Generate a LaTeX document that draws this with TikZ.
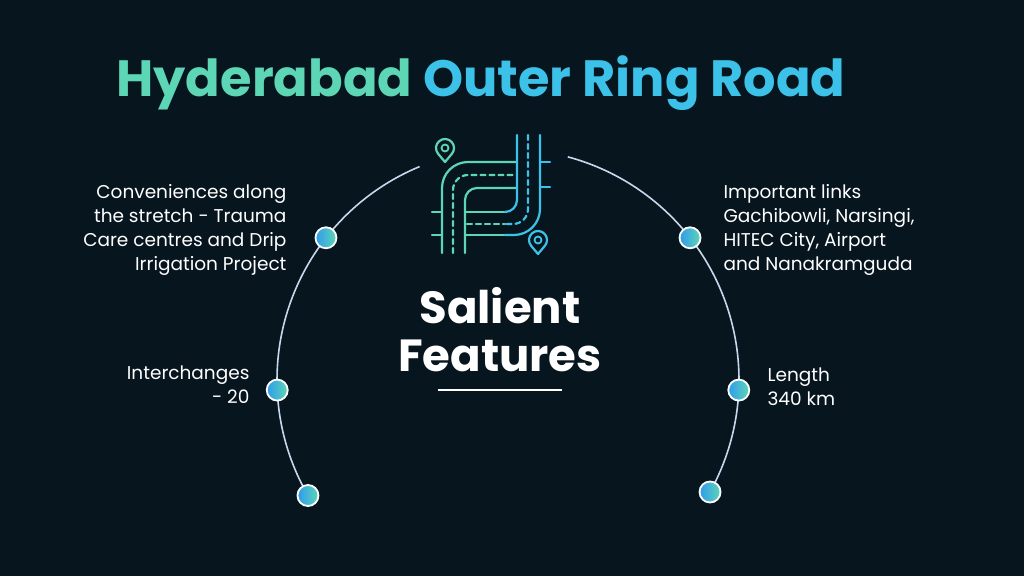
\documentclass[tikz,border=0pt]{standalone}
\usepackage{fontspec}
\setmainfont{Poppins}
\usetikzlibrary{calc}
\definecolor{bg}{HTML}{07151F}
\definecolor{tealc}{HTML}{5DD6B6}
\definecolor{cyanc}{HTML}{3CC2E8}
\definecolor{arcc}{HTML}{C8D8EC}
\begin{document}
\begin{tikzpicture}[x=1pt,y=1pt,
  dotn/.style={circle,draw=white,line width=1.8pt,minimum size=21pt,inner sep=0pt,left color=cyanc!80!blue,right color=tealc},
  body/.style={text=white,font=\fontsize{18.5}{24}\selectfont},
  road/.style={line width=2.2pt,line cap=round},
  roaddash/.style={road,dash pattern=on 5pt off 4pt}]
\fill[bg] (0,0) rectangle (1024,576);
\useasboundingbox (0,0) rectangle (1024,576);
% title
\node[font=\fontsize{51}{58}\selectfont\bfseries,anchor=center] (title) at (481,493)
 {\textcolor{tealc}{Hyderabad} \textcolor{cyanc}{Outer Ring Road}};
% arcs
\coordinate (c) at (508,196);
\draw[arcc,line width=1.6pt] ($(c)+(112.5:231)$) arc[start angle=112.5,end angle=211.5,radius=231];
\draw[arcc,line width=1.6pt] ($(c)+(75:231)$) arc[start angle=75,end angle=-31.5,radius=231];
% dots
\node[dotn] (d1) at ($(c)+(142:231)$) {};
\node[dotn] (d2) at ($(c)+(182.5:231)$) {};
\node[dotn] (d3) at ($(c)+(210:231)$) {};
\node[dotn] (d4) at ($(c)+(38:231)$) {};
\node[dotn] (d5) at ($(c)+(-2.5:231)$) {};
\node[dotn] (d6) at ($(c)+(-29:231)$) {};
% icon
\begin{scope}[yshift=576pt,y=-1pt]
 \draw[road,tealc] (442,253) -- (442,188) arc[start angle=180,end angle=270,radius=26] -- (517,162);
 \draw[roaddash,tealc] (453,253) -- (453,190) arc[start angle=180,end angle=270,radius=15] -- (515,175);
 \draw[road,tealc] (465,253) -- (465,200) arc[start angle=180,end angle=270,radius=12] -- (517,188);
 \draw[road,tealc] (432,212) -- (442,212) (432,235) -- (442,235);
 \draw[road,tealc] (465,212) -- (505,212);
 \draw[roaddash,tealc] (467,224) -- (505,224);
 \draw[road,tealc] (465,235) -- (505,235);
 \draw[road,cyanc] (517,135) -- (517,200) arc[start angle=0,end angle=90,radius=12] -- (505,212);
 \draw[roaddash,cyanc] (528,135) -- (528,209) arc[start angle=0,end angle=90,radius=15] -- (505,224);
 \draw[road,cyanc] (540,135) -- (540,209) arc[start angle=0,end angle=90,radius=26] -- (505,235);
 \draw[road,cyanc] (540,162) -- (550,162) (540,187) -- (550,187);
\end{scope}
% pins
\draw[road,tealc,line join=round,fill=bg] (445,414) -- ($(445,428)+(220:9)$) arc[start angle=220,end angle=-40,radius=9] -- cycle;
\draw[tealc,line width=1.8pt] (445,428) circle[radius=3.5];
\draw[road,cyanc,line join=round,fill=bg] (538,322) -- ($(538,336)+(220:9)$) arc[start angle=220,end angle=-40,radius=9] -- cycle;
\draw[cyanc,line width=1.8pt] (538,336) circle[radius=3.5];
% center
\node[text=white,font=\fontsize{45}{48}\selectfont\bfseries,align=center] (sf) at (500,246) {Salient\\Features};
\draw[white,line width=1.6pt] (438,186) coordinate (l1) -- (562,186) coordinate (l2);
% texts
\node[body,align=right,anchor=east] (t1) at (290,346) {Conveniences along\\the stretch - Trauma\\Care centres and Drip\\Irrigation Project};
\node[body,align=right,anchor=east] (t2) at (253,191) {Interchanges\\- 20};
\node[body,align=left,anchor=west] (t3) at (720,346) {Important links\\Gachibowli, Narsingi,\\HITEC City, Airport\\and Nanakramguda};
\node[body,align=left,anchor=west] (t4) at (764,189) {Length\\340 km};
\end{tikzpicture}
\end{document}
